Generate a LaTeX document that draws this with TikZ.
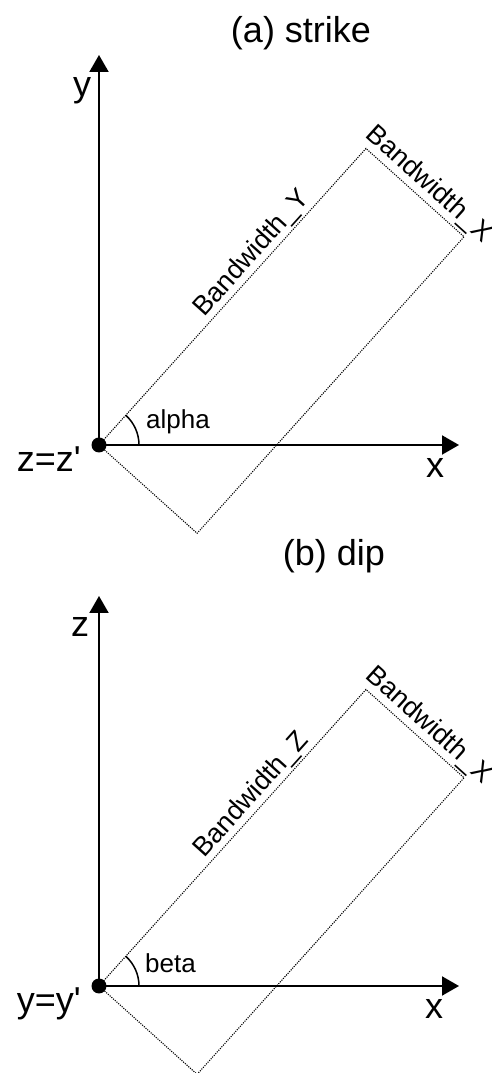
\documentclass[tikz,border=0pt]{standalone}
\usepackage{fontspec}
\setmainfont{Liberation Sans}
\usetikzlibrary{arrows.meta,calc}
\tikzset{
 axisline/.style={line width=2pt, -{Triangle[length=17pt,width=19pt]}},
 band/.style={line width=1.1pt, dash pattern=on 1.1pt off 1.2pt, black},
 bigtext/.style={font=\fontsize{36}{40}\selectfont, inner sep=0pt},
 midtext/.style={font=\fontsize{27}{30}\selectfont, inner sep=0pt},
 smalltext/.style={font=\fontsize{26}{30}\selectfont, inner sep=0pt},
 origindot/.style={circle, fill=black, minimum size=15pt, inner sep=0pt},
 anglearc/.style={line width=1.5pt}
}
\begin{document}
\begin{tikzpicture}[x=1pt,y=1pt]
\useasboundingbox (0,0) rectangle (492,1073);
% ---------- (a) strike ----------
\coordinate (O1) at (99,628);
\coordinate (Ytip1) at (99,1018);
\coordinate (Xtip1) at (459,628);
\coordinate (B1) at ($(O1)+(48:399)$);
\coordinate (D1) at ($(O1)+(-42:132)$);
\coordinate (C1) at ($(B1)+(-42:132)$);
\draw[band] (O1) -- (B1) -- (C1) -- (D1) -- cycle;
\draw[axisline] (O1) -- (Ytip1);
\draw[axisline] (O1) -- (Xtip1);
\draw[anglearc] ($(O1)+(40,0)$) arc[start angle=0,end angle=48,radius=40];
\node[origindot] (o1) at (O1) {};
\node[smalltext, anchor=west] (alpha) at (146,651) {alpha};
\node[bigtext, anchor=base] (ylab1) at (82,976) {y};
\node[bigtext, anchor=base] (xlab1) at (435,595) {x};
\node[bigtext, anchor=base east] (zz) at (81,601) {z=z\textquotesingle};
\node[bigtext, anchor=base] (ta) at (301,1030) {(a) strike};
\node[midtext, rotate=48, anchor=base west] (bwy) at ($(O1)+(48:165)+(138:7)$) {Bandwidth\_Y};
\node[midtext, rotate=-42, anchor=base west] (bwx1) at ($(B1)+(-42:-9)+(48:8)$) {Bandwidth\_X};
% ---------- (b) dip ----------
\coordinate (O2) at (99,87);
\coordinate (Ztip2) at (99,477);
\coordinate (Xtip2) at (459,87);
\coordinate (B2) at ($(O2)+(48:399)$);
\coordinate (D2) at ($(O2)+(-42:132)$);
\coordinate (C2) at ($(B2)+(-42:132)$);
\draw[band] (O2) -- (B2) -- (C2) -- (D2) -- cycle;
\draw[axisline] (O2) -- (Ztip2);
\draw[axisline] (O2) -- (Xtip2);
\draw[anglearc] ($(O2)+(40,0)$) arc[start angle=0,end angle=48,radius=40];
\node[origindot] (o2) at (O2) {};
\node[smalltext, anchor=west] (beta) at (145,110) {beta};
\node[bigtext, anchor=base] (zlab2) at (80,436) {z};
\node[bigtext, anchor=base] (xlab2) at (434,54) {x};
\node[bigtext, anchor=base east] (yy) at (81,60) {y=y\textquotesingle};
\node[bigtext, anchor=base] (tb) at (334,507) {(b) dip};
\node[midtext, rotate=48, anchor=base west] (bwz) at ($(O2)+(48:165)+(138:7)$) {Bandwidth\_Z};
\node[midtext, rotate=-42, anchor=base west] (bwx2) at ($(B2)+(-42:-9)+(48:8)$) {Bandwidth\_X};
\end{tikzpicture}
\end{document}
